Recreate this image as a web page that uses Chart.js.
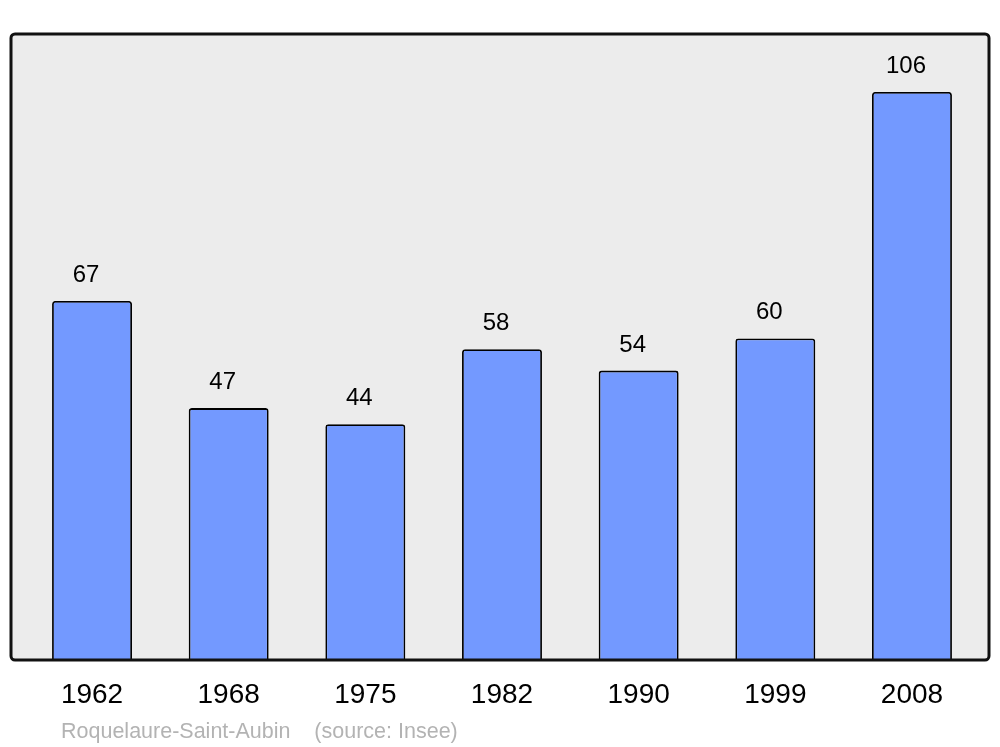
<!DOCTYPE html>
<html><head><meta charset="utf-8">
<script src="https://cdn.jsdelivr.net/npm/chart.js@4/dist/chart.umd.min.js"></script>
<style>html,body{margin:0;padding:0;background:#fff}#wrap{width:1000px;height:747px}</style>
</head><body><div id="wrap"><canvas id="c" width="1000" height="747"></canvas></div>
<script>
const years = ["1962","1968","1975","1982","1990","1999","2008"];
const population = [67,47,44,58,54,60,106];
const sourceText = "Roquelaure-Saint-Aubin    (source: Insee)";

const FONT = "'Liberation Sans', Arial, sans-serif";

const framePlugin = {
  id: 'frame',
  beforeDatasetsDraw(chart) {
    const {ctx, chartArea: a} = chart;
    ctx.save();
    ctx.beginPath();
    ctx.roundRect(a.left - 12.7, a.top, (a.right + 8.7) - (a.left - 12.7), a.bottom - a.top, 4);
    ctx.fillStyle = '#ececec';
    ctx.fill();
    ctx.restore();
  },
  afterDatasetsDraw(chart) {
    const {ctx, chartArea: a} = chart;
    ctx.save();
    ctx.beginPath();
    ctx.roundRect(a.left - 12.7, a.top, (a.right + 8.7) - (a.left - 12.7), a.bottom - a.top, 4);
    ctx.strokeStyle = '#111';
    ctx.lineWidth = 3;
    ctx.stroke();
    const meta = chart.getDatasetMeta(0);
    ctx.fillStyle = '#000';
    ctx.font = '24px ' + FONT;
    ctx.textAlign = 'center';
    ctx.textBaseline = 'alphabetic';
    meta.data.forEach((bar, i) => {
      ctx.fillText(String(population[i]), bar.x - 6, bar.y - 19);
    });
    ctx.fillStyle = '#b3b3b3';
    ctx.font = '21.5px ' + FONT;
    ctx.textAlign = 'left';
    ctx.fillText(sourceText, 61, 738);
    ctx.restore();
  }
};

new Chart(document.getElementById('c'), {
  type: 'bar',
  data: {
    labels: years,
    datasets: [{
      data: population,
      backgroundColor: '#7399ff',
      borderColor: '#000',
      borderWidth: 1.8,
      borderRadius: 3,
      borderSkipped: 'start',
      barPercentage: 0.585,
      categoryPercentage: 1
    }]
  },
  options: {
    responsive: false,
    animation: false,
    devicePixelRatio: 1,
    layout: { padding: { left: 23.7, right: 19.7, top: 34, bottom: 17.4 } },
    plugins: { legend: { display: false }, tooltip: { enabled: false } },
    scales: {
      x: {
        grid: { display: false, drawTicks: false },
        border: { display: false },
        ticks: { color: '#000', font: { size: 28, family: FONT }, padding: 18, maxRotation: 0 }
      },
      y: {
        display: false,
        min: 0,
        max: 116.8
      }
    }
  },
  plugins: [framePlugin]
});
</script>
</body></html>
